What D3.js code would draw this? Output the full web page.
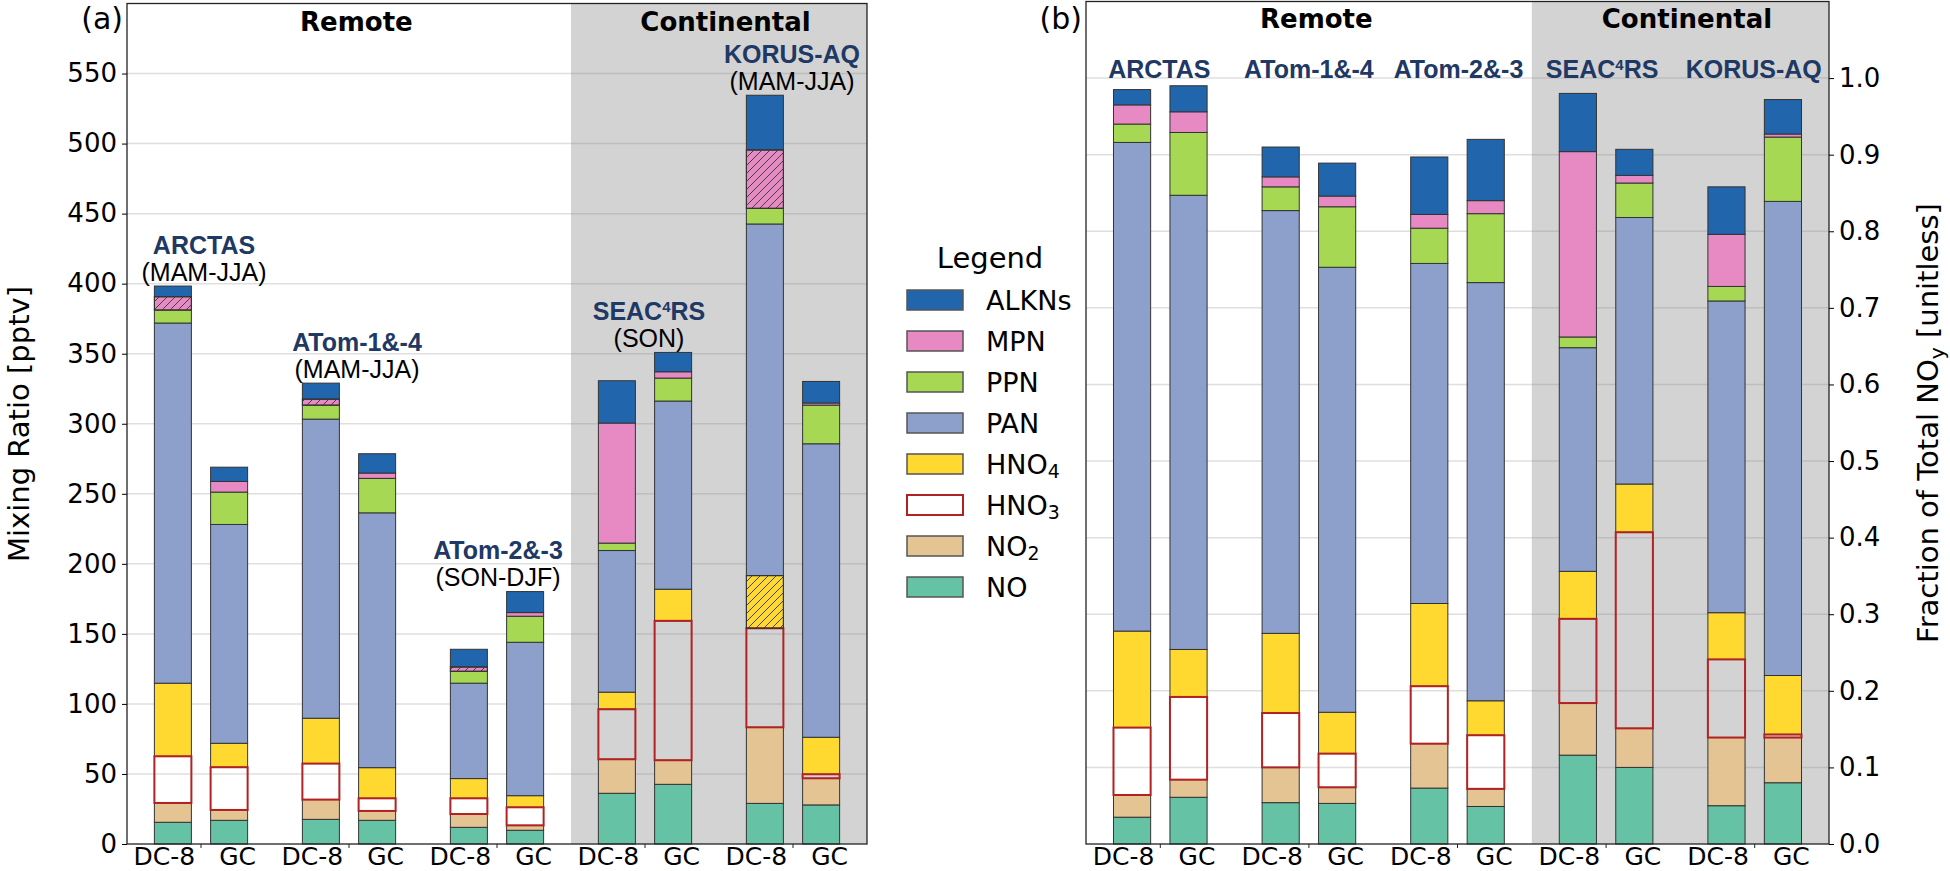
<!DOCTYPE html>
<html lang="en">
<head>
<meta charset="UTF-8" />
<title>NOy partitioning by campaign</title>
<script src="https://d3js.org/d3.v7.min.js"></script>
<style>
  body { margin: 0; background: white; }
  svg { display: block; }
  text { font-family: "DejaVu Sans", sans-serif; fill: #000; }
  .campaign { font-family: "Liberation Sans", Arial, sans-serif; font-weight: bold; fill: #203864; font-size: 25px; }
  .season { font-family: "Liberation Sans", Arial, sans-serif; font-size: 25px; }
  .region { font-weight: bold; font-size: 26px; }
</style>
</head>
<body>
<svg id="fig" width="1950" height="871"></svg>
<script>
  const campaigns = ["ARCTAS", "ATom-1&-4", "ATom-2&-3", "SEAC4RS", "KORUS-AQ"];
  const seasons = ["(MAM-JJA)", "(MAM-JJA)", "(SON-DJF)", "(SON)", "(MAM-JJA)"];
  const regions = ["Remote", "Continental"];
  const platforms = ["DC-8", "GC"];
  const species = ["NO", "NO2", "HNO3", "HNO4", "PAN", "PPN", "MPN", "ALKNs"];
  const colors = ["#66c2a5", "#e5c494", "none", "#ffd92f", "#8da0cb", "#a6d854", "#e78ac3", "#2166ac"];

  // bar order: ARCTAS DC-8, ARCTAS GC, ATom-1&-4 DC-8, ATom-1&-4 GC, ...
  // (a) mixing ratio, pptv
  const mixNO    = [15.5, 16.9, 17.6, 16.9, 11.9, 9.8, 36.2, 42.6, 29.0, 27.9];
  const mixNO2   = [13.8, 7.4, 14.1, 6.7, 9.5, 3.5, 24.3, 17.2, 54.3, 19.0];
  const mixHNO3  = [33.3, 30.5, 25.7, 9.0, 11.2, 12.9, 35.7, 99.5, 70.7, 2.9];
  const mixHNO4  = [52.2, 17.1, 32.4, 21.9, 14.1, 8.3, 12.2, 22.6, 37.6, 26.4];
  const mixPAN   = [257.1, 156.2, 213.5, 181.9, 68.1, 109.5, 101.1, 134.3, 251.0, 209.5];
  const mixPPN   = [9.3, 23.1, 10.0, 24.6, 8.5, 18.6, 5.3, 16.4, 11.2, 27.6];
  const mixMPN   = [9.5, 7.6, 4.3, 3.8, 3.1, 2.6, 85.7, 4.5, 41.7, 1.5];
  const mixALKNs = [7.6, 10.2, 11.4, 13.8, 12.6, 15.0, 30.2, 13.8, 39.0, 15.4];

  // (b) fraction of total NOy
  const fracNO    = [0.035, 0.061, 0.054, 0.053, 0.073, 0.049, 0.116, 0.100, 0.050, 0.080];
  const fracNO2   = [0.029, 0.023, 0.046, 0.021, 0.058, 0.023, 0.068, 0.051, 0.089, 0.059];
  const fracHNO3  = [0.088, 0.108, 0.071, 0.044, 0.075, 0.070, 0.110, 0.256, 0.102, 0.004];
  const fracHNO4  = [0.126, 0.062, 0.104, 0.054, 0.108, 0.045, 0.062, 0.063, 0.061, 0.077];
  const fracPAN   = [0.638, 0.593, 0.552, 0.581, 0.444, 0.546, 0.292, 0.348, 0.407, 0.619];
  const fracPPN   = [0.024, 0.082, 0.031, 0.079, 0.046, 0.090, 0.014, 0.045, 0.019, 0.084];
  const fracMPN   = [0.025, 0.027, 0.013, 0.014, 0.018, 0.017, 0.242, 0.010, 0.068, 0.004];
  const fracALKNs = [0.020, 0.034, 0.039, 0.043, 0.075, 0.080, 0.076, 0.034, 0.062, 0.045];

  // segments drawn hatched in (a): [bar index, species]
  const hatchedA = [[0, "MPN"], [2, "MPN"], [4, "MPN"], [8, "MPN"], [8, "HNO4"]];

  const mixTicks = [0, 50, 100, 150, 200, 250, 300, 350, 400, 450, 500, 550];
  const fracTicks = [0.0, 0.1, 0.2, 0.3, 0.4, 0.5, 0.6, 0.7, 0.8, 0.9, 1.0];

  const fig = d3.select("#fig");

  const defs = fig.append("defs");
  defs.append("pattern")
    .attr("id", "hatch")
    .attr("patternUnits", "userSpaceOnUse")
    .attr("width", 8).attr("height", 8)
    .append("path")
    .attr("d", "M-2,2 l4,-4 M0,8 l8,-8 M6,10 l4,-4")
    .attr("stroke", "#444")
    .attr("stroke-width", 1);

  // chemical names: trailing digit as subscript
  function chem(sel, name) {
    const m = name.match(/^(.*?)(\d?)$/);
    sel.append("tspan").text(m[1]);
    if (m[2]) sel.append("tspan").attr("font-size", "70%").attr("dy", "0.2em").text(m[2]);
  }

  // campaign names: the 4 in SEAC4RS is a superscript
  function campaignText(sel, name) {
    const parts = name.split("4RS");
    if (parts.length === 2) {
      sel.append("tspan").text(parts[0]);
      sel.append("tspan").attr("font-size", 15).attr("dy", -8).text("4");
      sel.append("tspan").attr("dy", 8).text("RS");
    } else {
      sel.text(name);
    }
  }

  function drawPanel(p) {
    const x = d3.scaleLinear().domain([0, 5]).range([p.left, p.right]);
    const y = d3.scaleLinear().domain([0, p.yMax]).range([p.bottom, p.top]);
    const g = fig.append("g");

    // continental background
    g.append("rect")
      .attr("x", x(3)).attr("y", p.top)
      .attr("width", x(5) - x(3)).attr("height", p.bottom - p.top)
      .attr("fill", "#d3d3d3");

    // grid
    g.selectAll(".grid")
      .data(p.ticks.filter((t) => t > 0))
      .join("line")
      .attr("x1", p.left).attr("x2", p.right)
      .attr("y1", (d) => y(d)).attr("y2", (d) => y(d))
      .attr("stroke", "#808080")
      .attr("stroke-opacity", 0.25)
      .attr("stroke-width", 1.5);

    // stacked bars
    const rows = d3.range(10).map((i) => {
      const r = { i: i, group: Math.floor(i / 2), plat: i % 2 };
      species.forEach((s, k) => (r[s] = p.cols[k][i]));
      return r;
    });
    const stacked = d3.stack().keys(species)(rows);
    const bw = x(0.25) - x(0);
    const bx = (d) => x(d.data.group + 0.5 + (d.data.plat ? 0.19 : -0.19)) - bw / 2;

    const order = [0, 1, 3, 4, 5, 6, 7, 2]; // HNO3 outline drawn last
    order.forEach((k) => {
      const isHNO3 = species[k] === "HNO3";
      g.append("g")
        .selectAll("rect")
        .data(stacked[k])
        .join("rect")
        .attr("x", bx)
        .attr("y", (d) => y(d[1]))
        .attr("width", bw)
        .attr("height", (d) => y(d[0]) - y(d[1]))
        .attr("fill", isHNO3 ? "none" : colors[k])
        .attr("stroke", isHNO3 ? "#b22222" : "#333")
        .attr("stroke-width", isHNO3 ? 2 : 1);
    });

    // hatching
    p.hatched.forEach(([i, s]) => {
      const k = species.indexOf(s);
      const d = stacked[k][i];
      g.append("rect")
        .attr("x", bx(d)).attr("y", y(d[1]))
        .attr("width", bw).attr("height", y(d[0]) - y(d[1]))
        .attr("fill", "url(#hatch)")
        .attr("stroke", "#333").attr("stroke-width", 1);
    });

    // frame
    g.append("rect")
      .attr("x", p.left).attr("y", p.top)
      .attr("width", p.right - p.left).attr("height", p.bottom - p.top)
      .attr("fill", "none").attr("stroke", "#222").attr("stroke-width", 1.3);

    // y axis
    const axis = p.side === "left"
      ? d3.axisLeft(y).tickValues(p.ticks).tickFormat(p.fmt).tickSize(5).tickPadding(5)
      : d3.axisRight(y).tickValues(p.ticks).tickFormat(p.fmt).tickSize(5).tickPadding(5);
    g.append("g")
      .attr("transform", `translate(${p.side === "left" ? p.left : p.right},0)`)
      .call(axis)
      .call((a) => a.select(".domain").remove())
      .attr("font-size", 26)
      .attr("font-family", "DejaVu Sans");

    // x ticks and labels
    d3.range(5).forEach((gi) => {
      const cx = x(gi + 0.5);
      g.append("line")
        .attr("x1", cx).attr("x2", cx)
        .attr("y1", p.bottom).attr("y2", p.bottom + 4)
        .attr("stroke", "#222");
      platforms.forEach((pl, j) => {
        g.append("text")
          .attr("x", x(gi + 0.5 + (j ? 0.247 : -0.247)))
          .attr("y", 865)
          .attr("text-anchor", "middle")
          .attr("font-size", 25)
          .text(pl);
      });
    });

    // region titles
    g.append("text").attr("class", "region")
      .attr("x", x(1.55)).attr("y", p.regionY)
      .attr("text-anchor", "middle").text(regions[0]);
    g.append("text").attr("class", "region")
      .attr("x", x(4.044)).attr("y", p.regionY)
      .attr("text-anchor", "middle").text(regions[1]);

    // campaign labels
    campaigns.forEach((c, gi) => {
      const cx = x(gi + 0.5) + p.nudge[gi];
      if (p.withSeason) {
        const top = d3.max([rows[2 * gi], rows[2 * gi + 1]], (r) => d3.sum(species, (s) => r[s]));
        const base = y(top) - 5.5;
        g.append("text").attr("class", "season")
          .attr("x", cx).attr("y", base)
          .attr("text-anchor", "middle").text(seasons[gi]);
        campaignText(
          g.append("text").attr("class", "campaign")
            .attr("x", cx).attr("y", base - 27)
            .attr("text-anchor", "middle"),
          c
        );
      } else {
        campaignText(
          g.append("text").attr("class", "campaign")
            .attr("x", cx).attr("y", y(1.0))
            .attr("text-anchor", "middle"),
          c
        );
      }
    });

    // panel letter
    g.append("text")
      .attr("x", p.left - 4).attr("y", 29)
      .attr("text-anchor", "end")
      .attr("font-size", 30)
      .text(p.letter);

    return { x, y };
  }

  drawPanel({
    left: 127, right: 867, top: 3.5, bottom: 844, yMax: 600,
    cols: [mixNO, mixNO2, mixHNO3, mixHNO4, mixPAN, mixPPN, mixMPN, mixALKNs],
    ticks: mixTicks, fmt: d3.format("d"), side: "left",
    hatched: hatchedA, regionY: 31, withSeason: true,
    nudge: [3, 8, 1, 4, -1], letter: "(a)"
  });

  drawPanel({
    left: 1086, right: 1829, top: 1.5, bottom: 844, yMax: 1.1,
    cols: [fracNO, fracNO2, fracHNO3, fracHNO4, fracPAN, fracPPN, fracMPN, fracALKNs],
    ticks: fracTicks, fmt: d3.format(".1f"), side: "right",
    hatched: [], regionY: 28, withSeason: false,
    nudge: [-1, 0, 1, -4, -1], letter: "(b)"
  });

  // axis titles
  fig.append("text")
    .attr("transform", "translate(29,424) rotate(-90)")
    .attr("text-anchor", "middle")
    .attr("font-size", 29)
    .text("Mixing Ratio [pptv]");

  const yl = fig.append("text")
    .attr("transform", "translate(1938,423) rotate(-90)")
    .attr("text-anchor", "middle")
    .attr("font-size", 29);
  yl.append("tspan").text("Fraction of Total NO");
  yl.append("tspan").attr("font-size", "70%").attr("dy", "0.3em").text("y");
  yl.append("tspan").attr("dy", "-0.21em").text(" [unitless]");

  // legend
  fig.append("text")
    .attr("x", 990).attr("y", 268)
    .attr("text-anchor", "middle")
    .attr("font-size", 29)
    .text("Legend");

  species.slice().reverse().forEach((s, j) => {
    const k = species.indexOf(s);
    const cy = 300 + j * 41;
    const isHNO3 = s === "HNO3";
    fig.append("rect")
      .attr("x", 907).attr("y", cy - 10)
      .attr("width", 56).attr("height", 20)
      .attr("fill", isHNO3 ? "white" : colors[k])
      .attr("stroke", isHNO3 ? "#b22222" : "#555")
      .attr("stroke-width", isHNO3 ? 2 : 1.5);
    chem(
      fig.append("text").attr("x", 986).attr("y", cy + 10).attr("font-size", 27),
      s
    );
  });
</script>
</body>
</html>
